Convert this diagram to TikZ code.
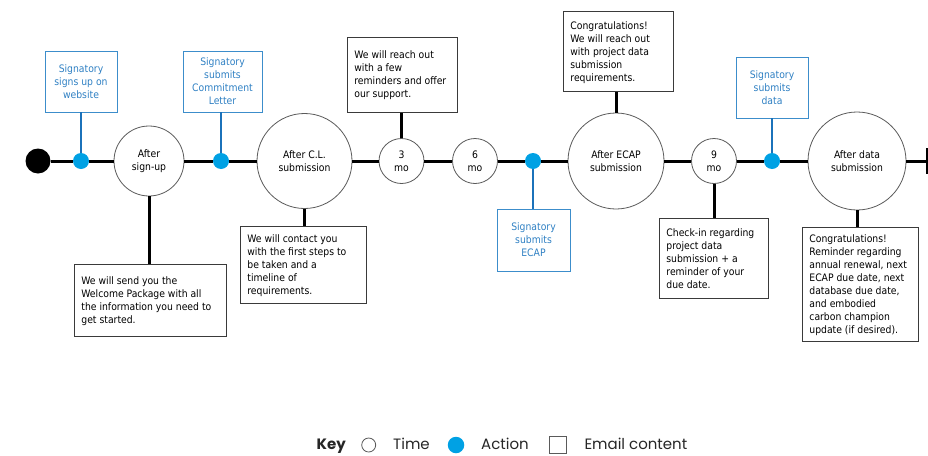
\documentclass[tikz,border=0pt]{standalone}
\usepackage{fontspec}
\setmainfont{DejaVu Sans Condensed}
\newfontfamily\keyfont{Poppins}

\definecolor{actblue}{HTML}{00A1E4}
\definecolor{linkblue}{HTML}{1B72BA}
\definecolor{boxblue}{HTML}{3C8DCB}
\definecolor{txtblue}{HTML}{2F80C3}
\definecolor{circgray}{HTML}{5A5A5A}
\definecolor{mailgray}{HTML}{3A3A3A}

% text block of an email box: width, height, top padding, lines
\newcommand\mailtext[4]{\parbox[c][#2pt][t]{#1pt}{\vspace*{#3pt}\raggedright #4}}

\begin{document}
\begin{tikzpicture}[x=1pt,y=-1pt,
  every node/.style={font=\fontsize{10.3}{12.9}\selectfont},
  rail/.style={line width=3pt, black},
  stem/.style={line width=3pt, black},
  bluestem/.style={line width=2.8pt, linkblue},
  stage/.style={circle, draw=circgray, line width=0.8pt, fill=white,
    inner sep=0pt, minimum size=#1, align=center},
  action/.style={circle, fill=actblue, inner sep=0pt, minimum size=16pt},
  actbox/.style={draw=boxblue, line width=0.9pt, text=txtblue, align=center,
    inner sep=0pt},
  mailbox/.style={draw=mailgray, line width=0.8pt, fill=white,
    inner xsep=7pt, inner ysep=0pt, anchor=north west},
  keytext/.style={font=\keyfont\fontsize{15}{17}\selectfont, inner sep=0pt,
    anchor=base west, text=black!85},
]
\useasboundingbox (0,0) rectangle (928,455);

% ---- timeline stages ----
\node[circle, fill=black, inner sep=0pt, minimum size=25pt] (start) at (38,161) {};
\node[action] (a1) at (81,161) {};
\node[stage=70pt] (c1) at (149,161) {After\\sign-up};
\node[action] (a2) at (221,161) {};
\node[stage=95pt] (c2) at (304.5,161) {After C.L.\\submission};
\node[stage=45pt] (m3) at (401.5,161) {3\\mo};
\node[stage=45pt] (m6) at (475,161) {6\\mo};
\node[action] (a3) at (533,161) {};
\node[stage=96pt] (c3) at (616,161) {After ECAP\\submission};
\node[stage=45pt] (m9) at (714,161) {9\\mo};
\node[action] (a4) at (772,161) {};
\node[stage=98pt] (c4) at (857,161) {After data\\submission};
\coordinate (endtop) at (927,148);
\coordinate (endbot) at (927,174);
\coordinate (endmid) at (927,161);

\draw[rail] (start) -- (a1) -- (c1) -- (a2) -- (c2) -- (m3) -- (m6) -- (a3)
  -- (c3) -- (m9) -- (a4) -- (c4) -- (endmid);
\draw[line width=2pt] (endtop) -- (endbot);

% ---- signatory actions ----
\node[actbox, minimum width=72pt, minimum height=61pt] (b1) at (81,81.5)
  {Signatory\\signs up on\\website};
\node[actbox, minimum width=79pt, minimum height=61pt] (b2) at (222.5,81.5)
  {Signatory\\submits\\Commitment\\Letter};
\node[actbox, minimum width=73pt, minimum height=62pt] (b3) at (533.5,240)
  {Signatory\\submits\\ECAP};
\node[actbox, minimum width=72pt, minimum height=61pt] (b4) at (772,87.5)
  {Signatory\\submits\\data};

\draw[bluestem] (a1) -- (a1 |- b1.south);
\draw[bluestem] (a2) -- (a2 |- b2.south);
\draw[bluestem] (a3) -- (a3 |- b3.north);
\draw[bluestem] (a4) -- (a4 |- b4.south);

% ---- email content ----
\node[mailbox] (e1) at (74,264) {\mailtext{138}{72}{12.5}{We will send you the\\
  Welcome Package with all\\the information you need to\\get started.}};
\node[mailbox] (e2) at (240,226) {\mailtext{112}{77}{8.5}{We will contact you\\
  with the first steps to\\be taken and a\\timeline of\\requirements.}};
\node[mailbox] (e3) at (347,37) {\mailtext{96}{75}{13.5}{We will reach out\\
  with a few\\reminders and offer\\our support.}};
\node[mailbox] (e4) at (563,11) {\mailtext{96}{80}{10.5}{Congratulations!\\
  We will reach out\\with project data\\submission\\requirements.}};
\node[mailbox] (e5) at (659,218) {\mailtext{95}{80}{10.5}{Check-in regarding\\
  project data\\submission + a\\reminder of your\\due date.}};
\node[mailbox] (e6) at (802,227) {\mailtext{102}{114}{7.5}{Congratulations!\\
  Reminder regarding\\annual renewal, next\\ECAP due date, next\\
  database due date,\\and embodied\\carbon champion\\update (if desired).}};

\draw[stem] (c1) -- (c1 |- e1.north);
\draw[stem] (c2) -- (c2 |- e2.north);
\draw[stem] (m3) -- (m3 |- e3.south);
\draw[stem] (c3) -- (c3 |- e4.south);
\draw[stem] (m9) -- (m9 |- e5.north);
\draw[stem] (c4) -- (c4 |- e6.north);

% ---- key ----
\node[keytext, font=\keyfont\bfseries\fontsize{15}{17}\selectfont] (keyword) at (316.5,449.5) {Key};
\node[circle, draw=circgray, line width=0.8pt, inner sep=0pt, minimum size=14pt] (keytime) at (368.7,445) {};
\node[keytext] (keytimetxt) at (393,449.5) {Time};
\node[action, minimum size=16.5pt] (keyact) at (456,445) {};
\node[keytext] (keyacttxt) at (481,449.5) {Action};
\node[draw=circgray, line width=0.8pt, inner sep=0pt, minimum size=16.5pt] (keymail) at (557.7,445) {};
\node[keytext] (keymailtxt) at (584.3,449.5) {Email content};
\end{tikzpicture}
\end{document}
